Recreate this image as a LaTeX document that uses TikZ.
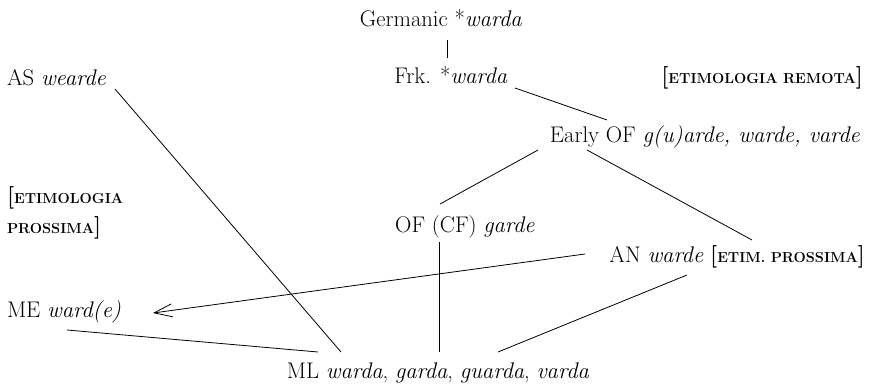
\documentclass[tikz,border=0pt]{standalone}
\usetikzlibrary{arrows.meta}
\newcommand\scbrk[1]{{\bfseries[}{\fontsize{14.5}{16}\selectfont\bfseries #1}{\bfseries]}}
\newcommand\scnob[1]{{\fontsize{14.5}{16}\selectfont\bfseries #1}}
\begin{document}
\begin{tikzpicture}[x=1pt,y=-1pt,
  font=\fontsize{22.6}{26}\selectfont,
  lbl/.style={inner sep=0pt,outer sep=0pt},
  link/.style={line width=0.8pt},
  barbarrow/.style={line width=0.8pt,-{Straight Barb[length=18pt,width=13pt,line width=0.8pt]}}]
\useasboundingbox (0,0) rectangle (873,385);
\node[lbl,anchor=base] (germ) at (441,27) {Germanic *\textit{warda}};
\node[lbl,anchor=base] (frk) at (451,84) {Frk. *\textit{warda}};
\node[lbl,anchor=base west] (as) at (7,86) {AS \textit{wearde}};
\node[lbl,anchor=base east] (remota) at (863,84) {\scbrk{ETIMOLOGIA REMOTA}};
\node[lbl,anchor=base] (early) at (705,143) {Early OF \textit{g(u)arde, warde, varde}};
\node[lbl,anchor=base west] (pro1) at (7,203) {{\bfseries[}\scnob{ETIMOLOGIA}};
\node[lbl,anchor=base west] (pro2) at (7,233) {\scnob{PROSSIMA}{\bfseries]}};
\node[lbl,anchor=base] (ofcf) at (465,232) {OF (CF) \textit{garde}};
\node[lbl,anchor=base east] (an) at (865,262) {AN \textit{warde} \scbrk{ETIM. PROSSIMA}};
\node[lbl,anchor=base west] (me) at (7,317) {ME \textit{ward(e)}};
\node[lbl,anchor=base] (ml) at (438,378) {ML \textit{warda}, \textit{garda}, \textit{guarda}, \textit{varda}};
% connectors
\draw[link] ([shift={(6,13)}]germ.base) -- ([shift={(-4,-26)}]frk.base);
\draw[link] ([shift={(64,4)}]frk.base) -- ([shift={(-98,-23)}]early.base);
\draw[link] ([shift={(-167,7)}]early.base) -- ([shift={(-25,-28)}]ofcf.base);
\draw[link] ([shift={(-118,7)}]early.base) -- ([shift={(-113,-22)}]an.base east);
\draw[link] ([shift={(-26,10)}]ofcf.base) -- ([shift={(1,-26)}]ml.base);
\draw[barbarrow] ([shift={(-280,-8)}]an.base east) -- ([shift={(146,-4)}]me.base west);
\draw[link] ([shift={(-178,13)}]an.base east) -- ([shift={(60,-26)}]ml.base);
\draw[link] ([shift={(108,3)}]as.base west) -- ([shift={(-97,-26)}]ml.base);
\draw[link] ([shift={(60,13)}]me.base west) -- ([shift={(-120,-26)}]ml.base);
\end{tikzpicture}
\end{document}
